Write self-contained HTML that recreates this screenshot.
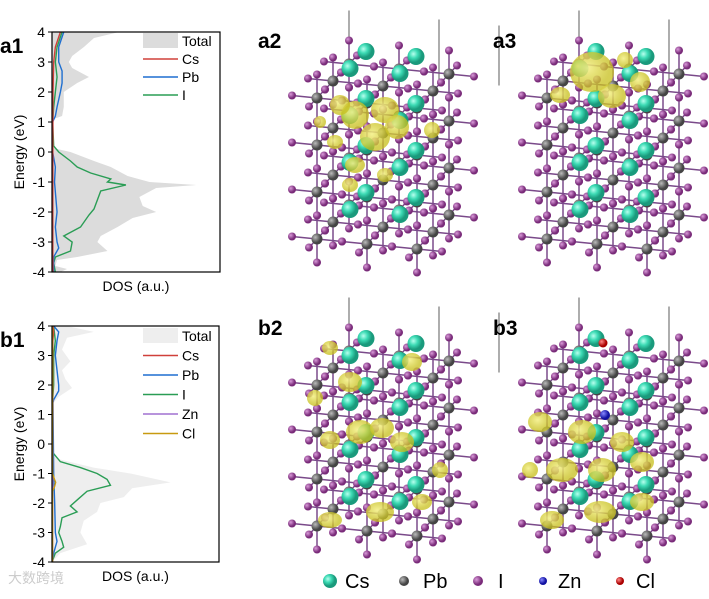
<!DOCTYPE html>
<html><head><meta charset="utf-8"><style>
body{margin:0;background:#fff;width:709px;height:594px;overflow:hidden}
svg{font-family:"Liberation Sans",Arial,sans-serif}
</style></head><body>
<svg id="s" width="709" height="594">
<defs>
<radialGradient id="gCs" cx="35%" cy="35%"><stop offset="0" stop-color="#b8ffee"/><stop offset="0.5" stop-color="#3ddbb5"/><stop offset="1" stop-color="#1a9a7c"/></radialGradient>
<radialGradient id="gPb" cx="35%" cy="35%"><stop offset="0" stop-color="#bbb"/><stop offset="1" stop-color="#444"/></radialGradient>
<radialGradient id="gI" cx="35%" cy="35%"><stop offset="0" stop-color="#d99ad9"/><stop offset="1" stop-color="#7a2c7a"/></radialGradient>
<radialGradient id="gZn" cx="35%" cy="35%"><stop offset="0" stop-color="#88f"/><stop offset="1" stop-color="#1010a0"/></radialGradient>
<radialGradient id="gCl" cx="35%" cy="35%"><stop offset="0" stop-color="#f88"/><stop offset="1" stop-color="#a00"/></radialGradient>
<radialGradient id="gY" cx="40%" cy="40%"><stop offset="0" stop-color="#f4f08a"/><stop offset="1" stop-color="#c8c020" stop-opacity="0.85"/></radialGradient>
</defs>
</svg>
<script>
const NS='http://www.w3.org/2000/svg', S=document.getElementById('s');
function el(t,a,p){const e=document.createElementNS(NS,t);for(const k in a)e.setAttribute(k,a[k]);(p||S).appendChild(e);return e;}
function tx(x,y,s,sz,w,anc,p){const e=el('text',{x:x,y:y,'font-size':sz,'font-weight':w||'normal','text-anchor':anc||'start',fill:'#000'},p);e.textContent=s;return e;}

// ---- DOS data (energy in eV, DOS in arbitrary 0-100 units) ----
const a1TotE=[4,3.8,3.5,3.2,3,2.8,2.5,2.3,2,1.5,1.2,1.1,1,0.2,0.1,0,-0.3,-0.5,-0.8,-1,-1.1,-1.2,-1.5,-1.8,-2,-2.2,-2.5,-2.8,-3,-3.3,-3.5,-3.6,-3.8,-3.9,-4];
const a1TotV=[40,25,19,12,10,12,22,15,7,7,6,1,0,0,3,11,25,35,45,58,86,62,52,54,62,48,39,29,27,33,15,3,2,9,5];
const a1IE=[4,3.5,3,2.5,2,1.5,1,0.2,0,-0.3,-0.5,-0.7,-0.9,-1,-1.1,-1.3,-1.6,-1.9,-2.1,-2.5,-2.8,-3,-3.3,-3.5,-3.7,-4];
const a1IV=[6,3,2,3,2,1,0.4,1,4,11,15,23,35,33,44,29,27,25,22,17,7,12,11,2,1,2];
const a1PbE=[4,3.5,3,2.7,2.3,2,1.5,1.2,1,0,-0.5,-1,-2,-2.5,-3,-3.2,-3.5,-4];
const a1PbV=[7,4,4,6,6,5,3,2,0.4,0.4,2,1.5,3,2,3,4,1,1];
const a1CsE=[4,3.5,3,2,0,-2,-4];
const a1CsV=[5,2,1,0.6,0.5,0.5,0.5];

const b1TotE=[4,3.8,3.6,3.2,2.8,2.5,2.2,1.9,1.6,1.4,1.3,-0.3,-0.5,-0.8,-1,-1.3,-1.5,-1.8,-2,-2.3,-2.6,-3,-3.4,-3.7,-4];
const b1TotV=[9,25,9,6,11,6,8,12,4,1,0,0,3,25,47,71,48,43,29,27,19,17,21,5,0];
const b1IE=[4,3.5,3,2,1.4,-0.3,-0.6,-0.8,-1,-1.2,-1.4,-1.6,-1.9,-2.1,-2.3,-2.5,-2.8,-3,-3.3,-3.5,-3.7,-4];
const b1IV=[1,2,1,1,0.3,0.6,5,17,27,33,35,21,15,11,15,6,5,4,6,7,2,0];
const b1PbE=[4,3.8,3.5,3,2.5,2,1.8,1.5,1.4,-1,-2,-3,-3.3,-3.7,-4];
const b1PbV=[1,4,3,2,3,4,4,1,0.6,1,1.6,2,3,1,0];
const b1CsE=[4,3.8,3.5,0,-4];
const b1CsV=[0.6,1,0.5,0.3,0.3];
const b1ZnE=[4,0,-4];
const b1ZnV=[0.2,0.2,0.2];
const b1ClE=[4,-1,-1.2,-1.3,-1.45,-1.6,-4];
const b1ClV=[0.3,0.3,1.5,2.2,1.5,0.3,0.3];

function dosPanel(name,L,R,T,B,series,legend,legTop,legStep,label){
  const g=el('g',{});
  
  
  const xs=v=>L+v/100*(R-L), ys=e=>T+(4-e)/8*(B-T);
  const tot=series[0];
  let d='M'+xs(0)+','+ys(tot.E[0]);
  tot.E.forEach((e,i)=>d+=' L'+xs(tot.V[i])+','+ys(e));
  d+=' L'+xs(0)+','+ys(tot.E[tot.E.length-1])+' Z';
  const ar=el('path',{d:d,fill:tot.c,stroke:'none'},g);
  
  
  series.slice(1).forEach(s=>{
    const p=el('polyline',{points:s.E.map((e,i)=>xs(s.V[i])+','+ys(e)).join(' '),fill:'none',stroke:s.c,'stroke-width':1.4},g);
    
    
  });
  el('rect',{x:L,y:T,width:R-L,height:B-T,fill:'none',stroke:'#000','stroke-width':1.2},g);
  [4,3,2,1,0,-1,-2,-3,-4].forEach(e=>{
    el('line',{x1:L-4,x2:L,y1:ys(e),y2:ys(e),stroke:'#000'},g);
    const t=tx(L-7,ys(e)+5,String(e),14,'normal','end',g);
    
    
  });
  const yt=tx(0,0,'Energy (eV)',14,'normal','middle',g);
  yt.setAttribute('transform','translate(24,'+((T+B)/2)+') rotate(-90)');
  
  
  const xt=tx((L+R)/2,B+19,'DOS (a.u.)',14,'normal','middle',g);
  
  
  legend.forEach((s,i)=>{
    const y=legTop+i*legStep;
    const lg=el('g',{},g);
    
    
    if(i===0) el('rect',{x:143,y:y-8,width:35,height:15,fill:s.c},lg);
    else el('line',{x1:143,x2:178,y1:y,y2:y,stroke:s.c,'stroke-width':1.6},lg);
    tx(182,y+5,s.n,14,'normal','start',lg);
  });
  const lb=tx(0,T+21,label,21,'bold','start',g);
  
  
}
const sa=[{n:'Total',E:a1TotE,V:a1TotV,c:'#dcdcdc'},{n:'Cs',E:a1CsE,V:a1CsV,c:'#d0403a'},{n:'Pb',E:a1PbE,V:a1PbV,c:'#1f6fd0'},{n:'I',E:a1IE,V:a1IV,c:'#2a9d55'}];
dosPanel('dos-panel-a1',52,220,32,272,[sa[0],sa[3],sa[2],sa[1]],sa,41,18,'a1');
const sb=[{n:'Total',E:b1TotE,V:b1TotV,c:'#eeeeee'},{n:'Cs',E:b1CsE,V:b1CsV,c:'#d0403a'},{n:'Pb',E:b1PbE,V:b1PbV,c:'#1f6fd0'},{n:'I',E:b1IE,V:b1IV,c:'#2a9d55'},{n:'Zn',E:b1ZnE,V:b1ZnV,c:'#a070d0'},{n:'Cl',E:b1ClE,V:b1ClV,c:'#c89a10'}];
dosPanel('dos-panel-b1',52,219,326,562,[sb[0],sb[3],sb[2],sb[1],sb[4],sb[5]],sb,336,19.5,'b1');

// ---- crystal structures ----
function structure(name,ox,oy,blobs,dopant){
  const g=el('g',{});
  
  
  const P=(i,j,k)=>[ox+i*50+k*16, oy+j*47+i*5-k*17];
  [P(0,-0.5,2),P(1.8,-0.5,2),P(3,-0.5,2)].forEach(p=>el('line',{x1:p[0],y1:p[1]-30,x2:p[0],y2:p[1]+30,stroke:'#333','stroke-width':0.8},g));
  const bonds=[],Is=[],Pbs=[];
  for(let k=2;k>=0;k--)for(let j=0;j<4;j++)for(let i=0;i<3;i++){
    const p=P(i,j,k);Pbs.push(p);
    [[1,0,0],[0,1,0],[0,0,1],[-1,0,0],[0,-1,0],[0,0,-1]].forEach(d=>{
      const q=P(i+d[0]*0.5,j+d[1]*0.5,k+d[2]*0.5);
      bonds.push([p,q]);
      Is.push(q);
    });
  }
  bonds.forEach(b=>el('line',{x1:b[0][0],y1:b[0][1],x2:b[1][0],y2:b[1][1],stroke:'#7a4a8a','stroke-width':1.5},g));
  Is.forEach(q=>el('circle',{cx:q[0],cy:q[1],r:4,fill:'url(#gI)'},g));
  Pbs.forEach(p=>el('circle',{cx:p[0],cy:p[1],r:5.5,fill:'url(#gPb)'},g));
  for(let k=1;k>=0;k--)for(let j=0;j<4;j++)for(let i=0;i<2;i++){
    const c=P(i+0.5,j-0.5,k+0.5);
    el('circle',{cx:c[0],cy:c[1],r:8.5,fill:'url(#gCs)'},g);
  }
  blobs.forEach(b=>el('ellipse',{cx:b[0],cy:b[1],rx:b[2],ry:b[3],fill:'url(#gY)',opacity:0.9},g));
  if(dopant){
    el('circle',{cx:605,cy:415,r:5,fill:'url(#gZn)'},g);
    el('circle',{cx:603,cy:343,r:4.5,fill:'url(#gCl)'},g);
  }
}
structure('structure-a2',317,98,[[355,115,14,14],[385,110,14,13],[375,137,15,14],[397,127,12,12],[340,105,10,10],[335,142,8,7],[355,165,10,8],[385,175,8,7],[350,185,8,7],[432,130,8,8],[320,122,6,6]],false);
structure('structure-a3',547,98,[[592,72,22,20],[612,96,14,12],[560,95,10,8],[640,82,10,10],[625,60,8,8]],false);
structure('structure-b2',317,385,[[330,348,8,7],[350,382,12,10],[412,362,10,9],[330,440,10,9],[360,432,14,12],[402,442,12,10],[330,520,12,8],[380,512,14,10],[422,502,10,8],[382,428,12,10],[315,398,8,8],[440,470,8,8]],false);
structure('structure-b3',547,385,[[540,422,12,10],[582,432,14,12],[622,442,12,10],[562,470,16,12],[602,470,14,12],[642,462,12,10],[552,520,12,9],[600,512,16,11],[642,502,12,9],[530,470,8,8]],true);

[['a2',258,48],['a3',493,48],['b2',258,335],['b3',493,335]].forEach(l=>{
  const t=tx(l[1],l[2],l[0],21,'bold','start');
  
  
});
[['Cs','gCs',330,7,345],['Pb','gPb',404,5,423],['I','gI',478,5,498],['Zn','gZn',543,4,558],['Cl','gCl',620,4,636]].forEach(a=>{
  const g=el('g',{});
  
  
  el('rect',{x:a[2]-10,y:568,width:60,height:24,fill:'#fff'},g);
  el('circle',{cx:a[2],cy:581,r:a[3],fill:'url(#'+a[1]+')'},g);
  tx(a[4],588,a[0],20,'normal','start',g);
});
const wm=tx(8,583,'大数跨境',14,'normal','start');
wm.setAttribute('fill','#ccc');
wm.setAttribute('font-family','"Liberation Sans","Noto Sans CJK SC",sans-serif');


</script>
</body></html>
